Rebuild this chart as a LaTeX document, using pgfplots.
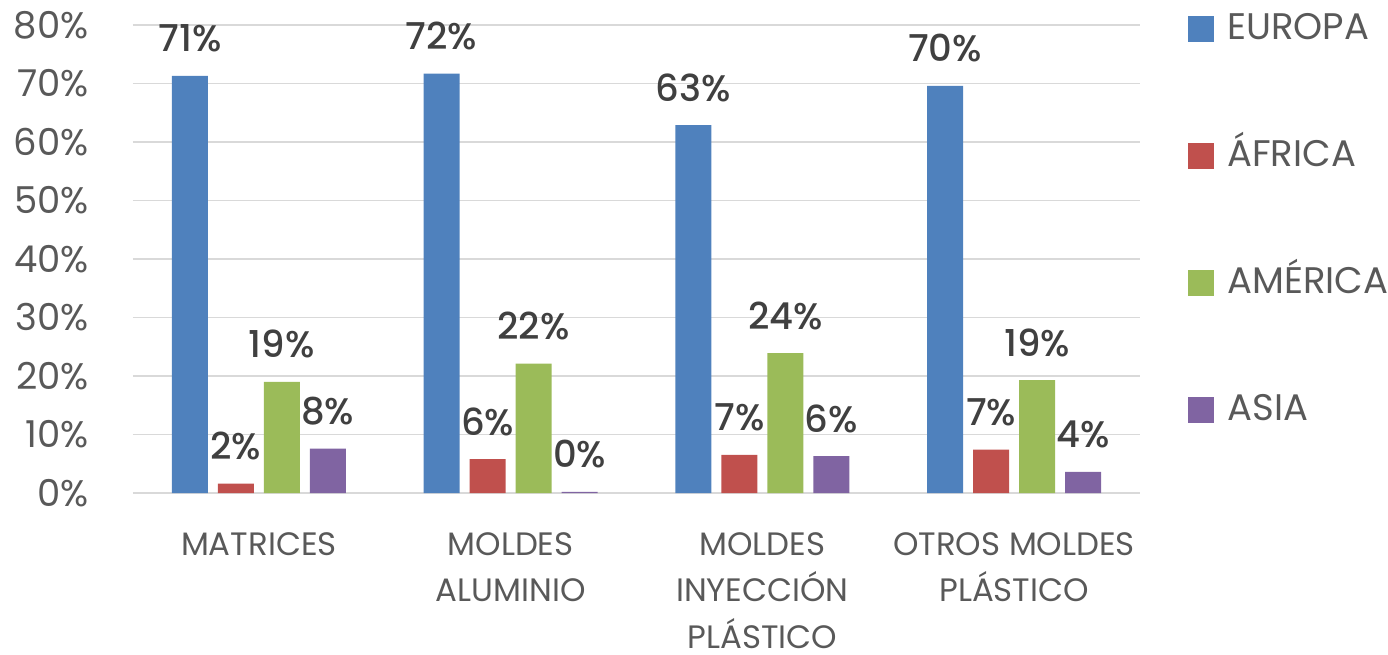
\documentclass[border=0pt]{standalone}
\usepackage{pgfplots}
\pgfplotsset{compat=1.18}
\usepackage{fontspec}
\setmainfont{Poppins}
\newfontfamily\poppinsmed{Poppins Medium}

\definecolor{europa}{HTML}{4F81BD}
\definecolor{africa}{HTML}{C0504D}
\definecolor{america}{HTML}{9BBB59}
\definecolor{asia}{HTML}{8064A2}
\definecolor{gridc}{HTML}{D9D9D9}
\definecolor{ticktext}{HTML}{595959}
\definecolor{labtext}{HTML}{404040}

\begin{document}
\begin{tikzpicture}
\useasboundingbox (-66.5pt,-80.5pt) rectangle (627.5pt,246.5pt);
\begin{axis}[
    at={(0,0)}, anchor=south west,
    scale only axis,
    width=503.5pt, height=234pt,
    ybar=5pt, bar width=18pt,
    ymin=0, ymax=80,
    xmin=-0.5, xmax=3.5,
    ytick={0,10,...,80},
    xtick={0,1,2,3},
    xticklabels={MATRICES, {MOLDES\\ALUMINIO}, {MOLDES\\INYECCIÓN\\PLÁSTICO}, {OTROS MOLDES\\PLÁSTICO}},
    yticklabel={\pgfmathprintnumber{\tick}\%},
    /pgf/number format/assume math mode=true,
    ymajorgrids,
    major grid style={draw=gridc, line width=0.75pt},
    axis line style={draw=none},
    major tick length=0pt,
    yticklabel style={font=\fontsize{18.5}{22}\selectfont, text=ticktext, inner sep=0pt, xshift=-22pt},
    xticklabel style={font=\fontsize{16.2}{23.3}\selectfont, text=ticktext, align=center, inner sep=0pt, anchor=north, yshift=-19.5pt},
    nodes near coords={\pgfmathprintnumber[fixed,precision=0]{\pgfplotspointmeta}\%},
    every node near coord/.append style={font=\poppinsmed\fontsize{18.5}{22}\selectfont, text=labtext, anchor=base, inner sep=0pt, yshift=12pt},
    legend style={at={(1,1)}, anchor=north west, xshift=24pt, yshift=7pt,
        draw=none, fill=none, inner sep=0pt, row sep=45.5pt,
        font=\fontsize{18.5}{22}\selectfont, text=ticktext,
        nodes={inner sep=0pt, text height=14pt, text depth=4pt},
        /tikz/every odd column/.append style={column sep=6.5pt}},
    legend cell align=left,
    legend image code/.code={\fill[#1] (0pt,-6.5pt) rectangle (13pt,6.5pt);},
]
\addplot[fill=europa, draw=none] coordinates {(0,71.3) (1,71.7) (2,62.9) (3,69.6)};
\addplot[fill=africa, draw=none] coordinates {(0,1.6) (1,5.8) (2,6.5) (3,7.4)};
\addplot[fill=america, draw=none] coordinates {(0,19.0) (1,22.1) (2,23.9) (3,19.3)};
\addplot[fill=asia, draw=none] coordinates {(0,7.6) (1,0.2) (2,6.3) (3,3.6)};
\legend{EUROPA, ÁFRICA, AMÉRICA, ASIA}
\end{axis}
\end{tikzpicture}
\end{document}
